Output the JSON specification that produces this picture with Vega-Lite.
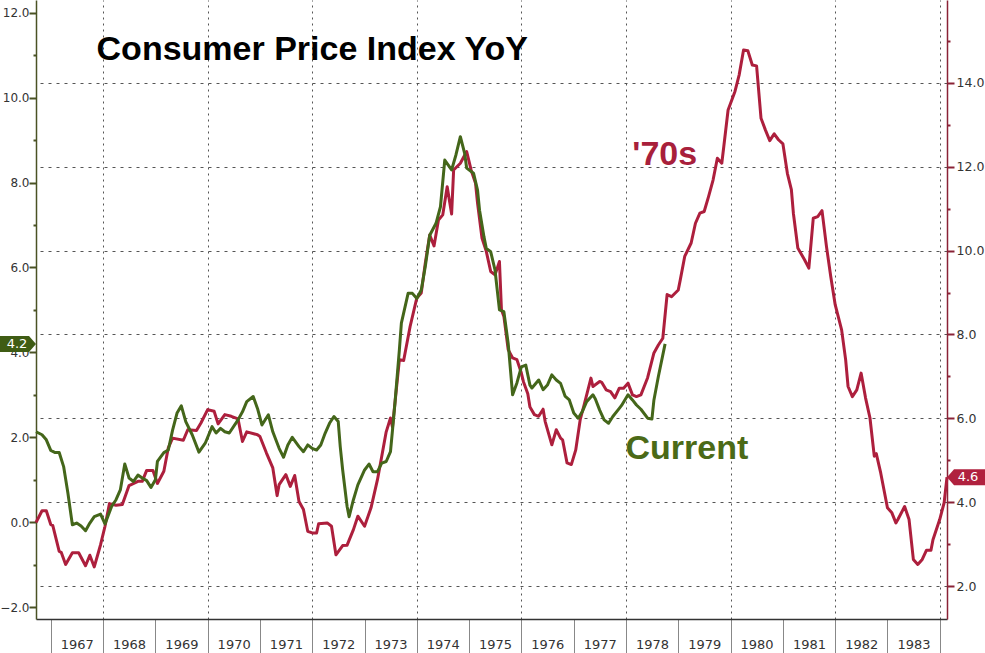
{
  "$schema": "https://vega.github.io/schema/vega-lite/v6.json",
  "width": 911,
  "height": 619,
  "autosize": {"type": "none"},
  "padding": {"left": 36, "top": 0, "right": 38, "bottom": 34},
  "background": "#ffffff",
  "config": {
    "view": {"stroke": null},
    "axis": {"labelFont": "DejaVu Sans", "labelFontSize": 13, "labelColor": "#333333"},
    "text": {"font": "Liberation Sans"}
  },
  "datasets": {
    "seventies": [
      {"date": "1966-09-20", "value": 3.52}, {"date": "1966-11-01", "value": 3.80}, {"date": "1966-12-01", "value": 3.80},
      {"date": "1967-01-01", "value": 3.47}, {"date": "1967-01-15", "value": 3.45}, {"date": "1967-03-01", "value": 2.83},
      {"date": "1967-03-15", "value": 2.81}, {"date": "1967-04-15", "value": 2.52}, {"date": "1967-06-01", "value": 2.80},
      {"date": "1967-07-15", "value": 2.80}, {"date": "1967-09-01", "value": 2.49}, {"date": "1967-10-01", "value": 2.74},
      {"date": "1967-11-01", "value": 2.46}, {"date": "1967-12-15", "value": 2.99}, {"date": "1968-01-15", "value": 3.43},
      {"date": "1968-02-15", "value": 3.97}, {"date": "1968-04-01", "value": 3.93}, {"date": "1968-05-15", "value": 3.95},
      {"date": "1968-07-01", "value": 4.40}, {"date": "1968-09-01", "value": 4.50}, {"date": "1968-10-01", "value": 4.50},
      {"date": "1968-11-01", "value": 4.76}, {"date": "1968-12-15", "value": 4.76}, {"date": "1969-01-15", "value": 4.45},
      {"date": "1969-03-01", "value": 4.74}, {"date": "1969-04-01", "value": 5.30}, {"date": "1969-05-01", "value": 5.53},
      {"date": "1969-07-15", "value": 5.48}, {"date": "1969-08-15", "value": 5.73}, {"date": "1969-10-15", "value": 5.71},
      {"date": "1969-11-15", "value": 5.89}, {"date": "1970-01-01", "value": 6.21}, {"date": "1970-02-15", "value": 6.17},
      {"date": "1970-03-15", "value": 5.87}, {"date": "1970-05-01", "value": 6.09}, {"date": "1970-06-15", "value": 6.05},
      {"date": "1970-08-01", "value": 5.99}, {"date": "1970-09-01", "value": 5.45}, {"date": "1970-10-01", "value": 5.68},
      {"date": "1970-12-15", "value": 5.61}, {"date": "1971-01-01", "value": 5.57}, {"date": "1971-02-15", "value": 5.18},
      {"date": "1971-04-01", "value": 4.82}, {"date": "1971-05-01", "value": 4.16}, {"date": "1971-05-15", "value": 4.42},
      {"date": "1971-07-01", "value": 4.66}, {"date": "1971-08-01", "value": 4.38}, {"date": "1971-09-01", "value": 4.64},
      {"date": "1971-10-01", "value": 4.02}, {"date": "1971-11-01", "value": 3.83}, {"date": "1971-12-01", "value": 3.31},
      {"date": "1972-01-01", "value": 3.27}, {"date": "1972-02-01", "value": 3.27}, {"date": "1972-02-15", "value": 3.49},
      {"date": "1972-04-15", "value": 3.51}, {"date": "1972-05-15", "value": 3.43}, {"date": "1972-06-15", "value": 2.75},
      {"date": "1972-08-01", "value": 2.97}, {"date": "1972-09-01", "value": 2.98}, {"date": "1972-10-15", "value": 3.35},
      {"date": "1972-11-15", "value": 3.67}, {"date": "1973-01-01", "value": 3.43}, {"date": "1973-02-15", "value": 3.87},
      {"date": "1973-04-01", "value": 4.54}, {"date": "1973-05-01", "value": 5.10}, {"date": "1973-06-01", "value": 5.68},
      {"date": "1973-07-01", "value": 6.01}, {"date": "1973-07-15", "value": 5.79}, {"date": "1973-09-01", "value": 7.40},
      {"date": "1973-10-01", "value": 7.38}, {"date": "1973-11-15", "value": 8.19}, {"date": "1974-01-01", "value": 8.87},
      {"date": "1974-02-01", "value": 8.99}, {"date": "1974-03-01", "value": 9.70}, {"date": "1974-04-01", "value": 10.37},
      {"date": "1974-05-01", "value": 10.11}, {"date": "1974-06-01", "value": 10.73}, {"date": "1974-07-01", "value": 10.85},
      {"date": "1974-08-01", "value": 11.52}, {"date": "1974-09-01", "value": 10.87}, {"date": "1974-09-15", "value": 11.92},
      {"date": "1974-11-01", "value": 12.08}, {"date": "1974-12-15", "value": 12.36}, {"date": "1975-01-15", "value": 11.92},
      {"date": "1975-02-15", "value": 11.60}, {"date": "1975-03-01", "value": 11.13}, {"date": "1975-04-01", "value": 10.30},
      {"date": "1975-05-01", "value": 9.98}, {"date": "1975-06-01", "value": 9.50}, {"date": "1975-07-01", "value": 9.42},
      {"date": "1975-08-01", "value": 9.74}, {"date": "1975-08-15", "value": 8.59}, {"date": "1975-09-01", "value": 8.43},
      {"date": "1975-10-01", "value": 7.64}, {"date": "1975-11-01", "value": 7.44}, {"date": "1975-12-01", "value": 7.40},
      {"date": "1976-01-01", "value": 7.08}, {"date": "1976-01-15", "value": 6.88}, {"date": "1976-02-15", "value": 6.59},
      {"date": "1976-03-01", "value": 6.27}, {"date": "1976-04-01", "value": 6.09}, {"date": "1976-05-01", "value": 6.05},
      {"date": "1976-06-01", "value": 6.22}, {"date": "1976-06-15", "value": 5.93}, {"date": "1976-08-01", "value": 5.37},
      {"date": "1976-09-01", "value": 5.73}, {"date": "1976-10-01", "value": 5.53}, {"date": "1976-10-15", "value": 5.49},
      {"date": "1976-11-15", "value": 4.94}, {"date": "1976-12-15", "value": 4.90}, {"date": "1977-01-15", "value": 5.25},
      {"date": "1977-02-15", "value": 5.97}, {"date": "1977-03-15", "value": 6.33}, {"date": "1977-05-01", "value": 6.96},
      {"date": "1977-05-15", "value": 6.76}, {"date": "1977-07-01", "value": 6.88}, {"date": "1977-07-15", "value": 6.86},
      {"date": "1977-08-15", "value": 6.68}, {"date": "1977-09-15", "value": 6.64}, {"date": "1977-10-15", "value": 6.49},
      {"date": "1977-11-15", "value": 6.72}, {"date": "1977-12-15", "value": 6.72}, {"date": "1978-01-15", "value": 6.84},
      {"date": "1978-02-15", "value": 6.56}, {"date": "1978-03-15", "value": 6.52}, {"date": "1978-04-15", "value": 6.56},
      {"date": "1978-06-01", "value": 6.97}, {"date": "1978-07-15", "value": 7.56}, {"date": "1978-08-15", "value": 7.75},
      {"date": "1978-09-15", "value": 7.91}, {"date": "1978-10-15", "value": 8.95}, {"date": "1978-11-15", "value": 8.90},
      {"date": "1979-01-01", "value": 9.06}, {"date": "1979-01-15", "value": 9.30}, {"date": "1979-02-15", "value": 9.86},
      {"date": "1979-04-01", "value": 10.18}, {"date": "1979-05-01", "value": 10.65}, {"date": "1979-06-01", "value": 10.89},
      {"date": "1979-07-01", "value": 10.93}, {"date": "1979-08-01", "value": 11.29}, {"date": "1979-09-01", "value": 11.68},
      {"date": "1979-10-01", "value": 12.20}, {"date": "1979-11-01", "value": 12.08}, {"date": "1979-11-15", "value": 12.48},
      {"date": "1979-12-15", "value": 13.35}, {"date": "1980-02-01", "value": 13.79}, {"date": "1980-03-01", "value": 14.18},
      {"date": "1980-04-01", "value": 14.78}, {"date": "1980-05-01", "value": 14.76}, {"date": "1980-06-01", "value": 14.42},
      {"date": "1980-07-01", "value": 14.40}, {"date": "1980-08-01", "value": 13.15}, {"date": "1980-09-01", "value": 12.87},
      {"date": "1980-10-01", "value": 12.62}, {"date": "1980-11-01", "value": 12.78}, {"date": "1980-12-01", "value": 12.64},
      {"date": "1981-01-01", "value": 12.54}, {"date": "1981-02-01", "value": 11.84}, {"date": "1981-03-01", "value": 11.45},
      {"date": "1981-03-15", "value": 10.89}, {"date": "1981-04-15", "value": 10.06}, {"date": "1981-06-01", "value": 9.78},
      {"date": "1981-07-01", "value": 9.58}, {"date": "1981-08-01", "value": 10.77}, {"date": "1981-09-01", "value": 10.81},
      {"date": "1981-10-01", "value": 10.95}, {"date": "1981-11-01", "value": 10.10}, {"date": "1981-12-01", "value": 9.38},
      {"date": "1982-01-01", "value": 8.71}, {"date": "1982-02-15", "value": 8.11}, {"date": "1982-03-15", "value": 7.40},
      {"date": "1982-04-01", "value": 6.76}, {"date": "1982-05-01", "value": 6.52}, {"date": "1982-06-01", "value": 6.68},
      {"date": "1982-07-01", "value": 7.08}, {"date": "1982-08-01", "value": 6.49}, {"date": "1982-09-01", "value": 6.01},
      {"date": "1982-10-01", "value": 5.10}, {"date": "1982-10-15", "value": 5.16}, {"date": "1982-11-15", "value": 4.70},
      {"date": "1983-01-01", "value": 3.87}, {"date": "1983-02-01", "value": 3.75}, {"date": "1983-03-01", "value": 3.51},
      {"date": "1983-03-15", "value": 3.59}, {"date": "1983-05-01", "value": 3.90}, {"date": "1983-06-01", "value": 3.59},
      {"date": "1983-07-01", "value": 2.64}, {"date": "1983-08-01", "value": 2.52}, {"date": "1983-09-01", "value": 2.64},
      {"date": "1983-10-01", "value": 2.86}, {"date": "1983-11-01", "value": 2.86}, {"date": "1983-11-15", "value": 3.11},
      {"date": "1984-01-01", "value": 3.59}, {"date": "1984-02-01", "value": 3.99}, {"date": "1984-02-21", "value": 4.60}
    ],
    "current": [
      {"date": "1966-09-20", "value": 2.13}, {"date": "1966-11-01", "value": 2.06}, {"date": "1966-12-01", "value": 1.94},
      {"date": "1967-01-01", "value": 1.69}, {"date": "1967-02-01", "value": 1.64}, {"date": "1967-03-01", "value": 1.64},
      {"date": "1967-04-01", "value": 1.31}, {"date": "1967-05-01", "value": 0.68}, {"date": "1967-06-01", "value": -0.06},
      {"date": "1967-07-01", "value": -0.02}, {"date": "1967-08-01", "value": -0.09}, {"date": "1967-09-01", "value": -0.20},
      {"date": "1967-10-01", "value": -0.02}, {"date": "1967-11-01", "value": 0.13}, {"date": "1967-12-15", "value": 0.19},
      {"date": "1968-01-15", "value": -0.04}, {"date": "1968-03-01", "value": 0.37}, {"date": "1968-04-01", "value": 0.53},
      {"date": "1968-05-01", "value": 0.76}, {"date": "1968-06-01", "value": 1.37}, {"date": "1968-07-01", "value": 1.04},
      {"date": "1968-08-01", "value": 0.96}, {"date": "1968-09-01", "value": 1.11}, {"date": "1968-10-01", "value": 1.04},
      {"date": "1968-11-01", "value": 0.98}, {"date": "1968-12-01", "value": 0.82}, {"date": "1969-01-01", "value": 1.00},
      {"date": "1969-01-15", "value": 1.43}, {"date": "1969-03-01", "value": 1.64}, {"date": "1969-04-01", "value": 1.70},
      {"date": "1969-05-01", "value": 2.17}, {"date": "1969-06-01", "value": 2.57}, {"date": "1969-07-01", "value": 2.74},
      {"date": "1969-08-01", "value": 2.37}, {"date": "1969-09-15", "value": 2.06}, {"date": "1969-11-01", "value": 1.65},
      {"date": "1969-12-15", "value": 1.86}, {"date": "1970-02-01", "value": 2.25}, {"date": "1970-03-01", "value": 2.10},
      {"date": "1970-04-01", "value": 2.21}, {"date": "1970-05-01", "value": 2.13}, {"date": "1970-06-01", "value": 2.10},
      {"date": "1970-08-01", "value": 2.41}, {"date": "1970-09-01", "value": 2.60}, {"date": "1970-10-01", "value": 2.84},
      {"date": "1970-11-15", "value": 2.96}, {"date": "1970-12-15", "value": 2.68}, {"date": "1971-01-15", "value": 2.29},
      {"date": "1971-03-01", "value": 2.53}, {"date": "1971-04-01", "value": 2.13}, {"date": "1971-05-15", "value": 1.74},
      {"date": "1971-06-15", "value": 1.53}, {"date": "1971-07-15", "value": 1.82}, {"date": "1971-08-15", "value": 2.00},
      {"date": "1971-10-01", "value": 1.78}, {"date": "1971-11-01", "value": 1.66}, {"date": "1971-12-01", "value": 1.82},
      {"date": "1972-01-01", "value": 1.74}, {"date": "1972-02-01", "value": 1.70}, {"date": "1972-03-01", "value": 1.82},
      {"date": "1972-04-01", "value": 2.10}, {"date": "1972-05-01", "value": 2.33}, {"date": "1972-06-01", "value": 2.49},
      {"date": "1972-07-01", "value": 2.37}, {"date": "1972-07-15", "value": 1.78}, {"date": "1972-08-01", "value": 1.23},
      {"date": "1972-09-01", "value": 0.37}, {"date": "1972-09-15", "value": 0.13}, {"date": "1972-10-15", "value": 0.53},
      {"date": "1972-11-15", "value": 0.88}, {"date": "1973-01-01", "value": 1.23}, {"date": "1973-02-01", "value": 1.37},
      {"date": "1973-03-01", "value": 1.19}, {"date": "1973-04-01", "value": 1.19}, {"date": "1973-05-01", "value": 1.39},
      {"date": "1973-06-01", "value": 1.43}, {"date": "1973-07-01", "value": 1.66}, {"date": "1973-07-15", "value": 2.17},
      {"date": "1973-08-01", "value": 2.80}, {"date": "1973-09-01", "value": 4.06}, {"date": "1973-09-15", "value": 4.69},
      {"date": "1973-11-01", "value": 5.39}, {"date": "1973-12-01", "value": 5.39}, {"date": "1974-01-01", "value": 5.27},
      {"date": "1974-02-01", "value": 5.47}, {"date": "1974-03-01", "value": 6.02}, {"date": "1974-04-01", "value": 6.76},
      {"date": "1974-05-15", "value": 7.04}, {"date": "1974-06-15", "value": 7.43}, {"date": "1974-07-15", "value": 8.53},
      {"date": "1974-09-01", "value": 8.30}, {"date": "1974-10-01", "value": 8.65}, {"date": "1974-11-01", "value": 9.08},
      {"date": "1974-12-01", "value": 8.69}, {"date": "1974-12-15", "value": 8.34}, {"date": "1975-02-01", "value": 8.22},
      {"date": "1975-03-01", "value": 7.82}, {"date": "1975-03-15", "value": 7.35}, {"date": "1975-04-15", "value": 6.72},
      {"date": "1975-05-01", "value": 6.45}, {"date": "1975-06-01", "value": 6.37}, {"date": "1975-07-01", "value": 5.94},
      {"date": "1975-08-01", "value": 5.00}, {"date": "1975-09-01", "value": 4.96}, {"date": "1975-10-01", "value": 4.21},
      {"date": "1975-11-01", "value": 3.00}, {"date": "1975-12-01", "value": 3.28}, {"date": "1976-01-01", "value": 3.66},
      {"date": "1976-02-01", "value": 3.70}, {"date": "1976-03-01", "value": 3.23}, {"date": "1976-03-15", "value": 3.16},
      {"date": "1976-05-01", "value": 3.35}, {"date": "1976-06-01", "value": 3.12}, {"date": "1976-07-01", "value": 3.23},
      {"date": "1976-08-01", "value": 3.47}, {"date": "1976-09-01", "value": 3.35}, {"date": "1976-10-01", "value": 3.27},
      {"date": "1976-11-01", "value": 2.97}, {"date": "1976-12-01", "value": 2.88}, {"date": "1977-01-01", "value": 2.57},
      {"date": "1977-02-01", "value": 2.45}, {"date": "1977-03-01", "value": 2.60}, {"date": "1977-04-01", "value": 2.84},
      {"date": "1977-05-15", "value": 3.00}, {"date": "1977-06-01", "value": 2.90}, {"date": "1977-07-01", "value": 2.64},
      {"date": "1977-08-01", "value": 2.41}, {"date": "1977-09-01", "value": 2.33}, {"date": "1977-10-01", "value": 2.49},
      {"date": "1977-11-15", "value": 2.68}, {"date": "1977-12-01", "value": 2.75}, {"date": "1978-01-15", "value": 3.00},
      {"date": "1978-02-15", "value": 2.88}, {"date": "1978-03-15", "value": 2.76}, {"date": "1978-04-15", "value": 2.66},
      {"date": "1978-06-01", "value": 2.45}, {"date": "1978-07-01", "value": 2.43}, {"date": "1978-07-15", "value": 2.88},
      {"date": "1978-08-15", "value": 3.43}, {"date": "1978-10-01", "value": 4.20}
    ]
  },
  "layer": [
    {
      "data": {"name": "seventies"},
      "mark": {"type": "line", "color": "#ad1f3d", "strokeWidth": 3, "strokeJoin": "round"},
      "encoding": {
        "x": {
          "field": "date", "type": "temporal",
          "scale": {"type": "utc", "domain": [{"year": 1966, "month": 9, "date": 20, "utc": true}, {"year": 1984, "month": 2, "date": 21, "utc": true}]},
          "axis": {
            "orient": "top", "title": null, "domain": false, "ticks": false, "labels": false,
            "grid": true, "gridColor": "#555555", "gridDash": [2, 4], "gridWidth": 1,
            "values": [
              {"year": 1968, "utc": true}, {"year": 1970, "utc": true}, {"year": 1972, "utc": true},
              {"year": 1974, "utc": true}, {"year": 1976, "utc": true}, {"year": 1978, "utc": true},
              {"year": 1980, "utc": true}, {"year": 1982, "utc": true}, {"year": 1984, "utc": true}
            ]
          }
        },
        "y": {
          "field": "value", "type": "quantitative",
          "scale": {"domain": [1.22, 15.97], "nice": false, "zero": false},
          "axis": {
            "orient": "right", "title": null,
            "values": [2, 3, 4, 5, 6, 7, 8, 9, 10, 11, 12, 13, 14, 15],
            "labelExpr": "datum.value % 2 === 0 ? format(datum.value, '.1f') : ''",
            "labelFontSize": 12.5,
            "tickSize": 7,
            "tickDash": {"condition": {"test": "datum.value % 2 !== 0", "value": [3, 10]}, "value": []},
            "tickWidth": 2, "tickColor": "#8a2236",
            "domainColor": "#8a2236", "domainWidth": 1.5,
            "labelPadding": 2,
            "grid": true, "gridColor": "#555555", "gridDash": [3, 5],
            "gridOpacity": {"condition": {"test": "datum.value % 2 !== 0", "value": 0}, "value": 1}
          }
        }
      }
    },
    {
      "data": {"name": "current"},
      "mark": {"type": "line", "color": "#44661a", "strokeWidth": 3, "strokeJoin": "round"},
      "encoding": {
        "x": {
          "field": "date", "type": "temporal",
          "scale": {"type": "utc", "domain": [{"year": 1966, "month": 9, "date": 20, "utc": true}, {"year": 1984, "month": 2, "date": 21, "utc": true}]},
          "axis": {
            "orient": "bottom", "title": null, "grid": false,
            "values": [
              {"year": 1967, "utc": true}, {"year": 1968, "utc": true}, {"year": 1969, "utc": true},
              {"year": 1970, "utc": true}, {"year": 1971, "utc": true}, {"year": 1972, "utc": true},
              {"year": 1973, "utc": true}, {"year": 1974, "utc": true}, {"year": 1975, "utc": true},
              {"year": 1976, "utc": true}, {"year": 1977, "utc": true}, {"year": 1978, "utc": true},
              {"year": 1979, "utc": true}, {"year": 1980, "utc": true}, {"year": 1981, "utc": true},
              {"year": 1982, "utc": true}, {"year": 1983, "utc": true}, {"year": 1984, "utc": true}
            ],
            "labelExpr": "utcyear(datum.value) > 1983 ? '' : utcFormat(datum.value, '%Y')",
            "tickSize": 34, "tickColor": "#888888", "tickWidth": 1,
            "domainColor": "#333333", "domainWidth": 1.5,
            "labelOffset": 26, "labelPadding": -15, "labelAlign": "center", "labelBaseline": "top",
            "labelOverlap": false, "labelFlush": false
          }
        },
        "y": {
          "field": "value", "type": "quantitative",
          "scale": {"domain": [-2.28, 12.30], "nice": false, "zero": false},
          "axis": {
            "orient": "left", "title": null, "grid": false,
            "values": [-2, -1, 0, 1, 2, 3, 4, 5, 6, 7, 8, 9, 10, 11, 12],
            "labelExpr": "datum.value % 2 === 0 ? format(datum.value, '.1f') : ''",
            "labelFontSize": 12,
            "tickSize": 7,
            "tickDash": {"condition": {"test": "datum.value % 2 !== 0", "value": [3, 10]}, "value": []},
            "tickWidth": 2, "tickColor": "#4a5224",
            "domainColor": "#4a5224", "domainWidth": 1.5,
            "labelPadding": 0
          }
        }
      }
    },
    {
      "data": {"values": [{}]},
      "mark": {"type": "text", "text": "Consumer Price Index YoY", "align": "left", "baseline": "alphabetic", "fontSize": 34, "fontWeight": "bold", "color": "#000000"},
      "encoding": {
        "x": {"datum": {"year": 1967, "month": 11, "date": 17, "utc": true}, "type": "temporal", "axis": null},
        "y": {"datum": 10.88, "type": "quantitative", "axis": null, "scale": {"domain": [-2.28, 12.30], "nice": false, "zero": false}}
      }
    },
    {
      "data": {"values": [{}]},
      "mark": {"type": "text", "text": "Current", "align": "left", "baseline": "alphabetic", "fontSize": 34, "fontWeight": "bold", "color": "#4b6a17"},
      "encoding": {
        "x": {"datum": {"year": 1977, "month": 12, "date": 28, "utc": true}, "type": "temporal", "axis": null},
        "y": {"datum": 1.48, "type": "quantitative", "axis": null, "scale": {"domain": [-2.28, 12.30], "nice": false, "zero": false}}
      }
    },
    {
      "data": {"values": [{}]},
      "mark": {"type": "text", "text": "'70s", "align": "left", "baseline": "alphabetic", "fontSize": 34, "fontWeight": "bold", "color": "#a8203b"},
      "encoding": {
        "x": {"datum": {"year": 1978, "month": 2, "date": 14, "utc": true}, "type": "temporal", "axis": null},
        "y": {"datum": 12.04, "type": "quantitative", "axis": null, "scale": {"domain": [1.22, 15.97], "nice": false, "zero": false}}
      }
    },
    {
      "data": {"values": [{}]},
      "mark": {"type": "point", "shape": "M0,0 L-0.7,-0.8 L-3.6,-0.8 L-3.6,0.8 L-0.7,0.8 Z", "size": 400, "filled": true, "color": "#3f5c14", "opacity": 1, "strokeWidth": 0},
      "encoding": {
        "x": {"datum": {"year": 1966, "month": 9, "date": 20, "utc": true}, "type": "temporal", "axis": null},
        "y": {"datum": 4.2, "type": "quantitative", "axis": null, "scale": {"domain": [-2.28, 12.30], "nice": false, "zero": false}}
      }
    },
    {
      "data": {"values": [{}]},
      "mark": {"type": "text", "text": "4.2", "align": "center", "baseline": "middle", "dx": -19, "font": "DejaVu Sans", "fontSize": 13, "color": "#ffffff"},
      "encoding": {
        "x": {"datum": {"year": 1966, "month": 9, "date": 20, "utc": true}, "type": "temporal", "axis": null},
        "y": {"datum": 4.2, "type": "quantitative", "axis": null, "scale": {"domain": [-2.28, 12.30], "nice": false, "zero": false}}
      }
    },
    {
      "data": {"values": [{}]},
      "mark": {"type": "point", "shape": "M0,0 L0.7,-0.8 L3.8,-0.8 L3.8,0.8 L0.7,0.8 Z", "size": 400, "filled": true, "color": "#b0213e", "opacity": 1, "strokeWidth": 0},
      "encoding": {
        "x": {"datum": {"year": 1984, "month": 2, "date": 21, "utc": true}, "type": "temporal", "axis": null},
        "y": {"datum": 4.6, "type": "quantitative", "axis": null, "scale": {"domain": [1.22, 15.97], "nice": false, "zero": false}}
      }
    },
    {
      "data": {"values": [{}]},
      "mark": {"type": "text", "text": "4.6", "align": "center", "baseline": "middle", "dx": 21, "font": "DejaVu Sans", "fontSize": 13, "color": "#ffffff"},
      "encoding": {
        "x": {"datum": {"year": 1984, "month": 2, "date": 21, "utc": true}, "type": "temporal", "axis": null},
        "y": {"datum": 4.6, "type": "quantitative", "axis": null, "scale": {"domain": [1.22, 15.97], "nice": false, "zero": false}}
      }
    }
  ],
  "resolve": {"scale": {"y": "independent"}}
}
